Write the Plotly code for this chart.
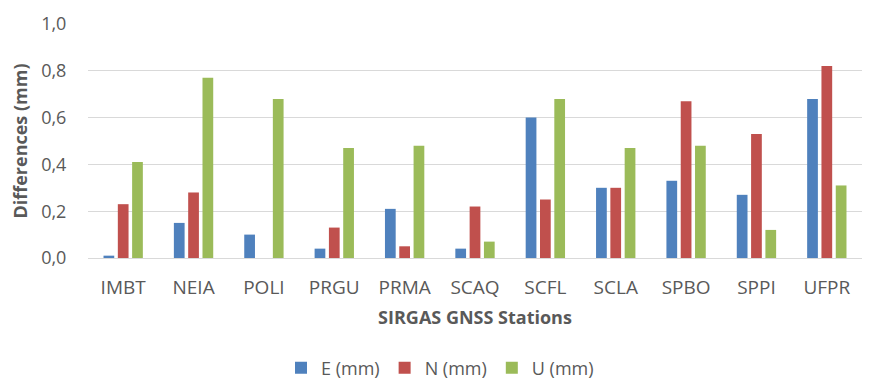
import plotly.graph_objects as go

stations = ["IMBT", "NEIA", "POLI", "PRGU", "PRMA", "SCAQ", "SCFL", "SCLA", "SPBO", "SPPI", "UFPR"]
e_mm = [0.01, 0.15, 0.10, 0.04, 0.21, 0.04, 0.60, 0.30, 0.33, 0.27, 0.68]
n_mm = [0.23, 0.28, 0.00, 0.13, 0.05, 0.22, 0.25, 0.30, 0.67, 0.53, 0.82]
u_mm = [0.41, 0.77, 0.68, 0.47, 0.48, 0.07, 0.68, 0.47, 0.48, 0.12, 0.31]

series = [("E (mm)", e_mm, "#4F81BD"), ("N (mm)", n_mm, "#C0504D"), ("U (mm)", u_mm, "#9BBB59")]

fig = go.Figure()
for name, vals, col in series:
    fig.add_trace(go.Bar(x=stations, y=vals, name=name, marker_color=col, marker_line_width=0))

font_fam = "Open Sans, Lato, sans-serif"
# page body has an 8px default margin, so the figure is shifted by 8px
fig.update_layout(
    width=864, height=382,
    margin=dict(l=80, r=10, t=16, b=132, autoexpand=False),
    paper_bgcolor="white", plot_bgcolor="white",
    separators=",.",
    barmode="group", bargap=0.39, bargroupgap=0.25,
    font=dict(family=font_fam, color="#595959", size=18),
    showlegend=True,
    legend=dict(orientation="h", xref="container", x=0.5, xanchor="center",
                y=-0.47, yanchor="middle",
                font=dict(size=18, color="#595959"), itemwidth=30, traceorder="normal",
                tracegroupgap=0),
)
fig.update_xaxes(
    title=dict(text="<b>SIRGAS GNSS Stations</b>", font=dict(size=18, color="#595959"), standoff=12),
    showline=True, linecolor="#D9D9D9", linewidth=1, ticks="outside", ticklen=12,
    tickcolor="rgba(0,0,0,0)", showgrid=False,
    tickfont=dict(size=19, color="#595959"),
)
fig.update_yaxes(
    title=dict(text="<b>Differences (mm)</b>", font=dict(size=18, color="#595959"), standoff=8),
    range=[0, 1.0], dtick=0.2, tickformat=".1f",
    showgrid=True, gridcolor="#D9D9D9", gridwidth=1, zeroline=False,
    showline=False, ticks="outside", ticklen=17, tickcolor="rgba(0,0,0,0)",
    tickfont=dict(size=18, color="#595959"),
)

fig.write_html("out.html")
